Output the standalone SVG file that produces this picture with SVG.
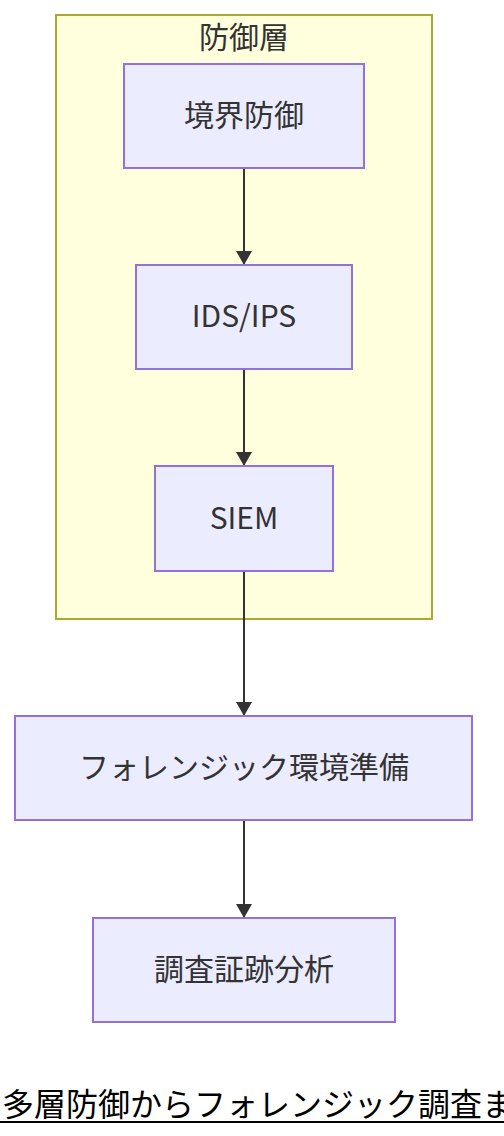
<svg xmlns="http://www.w3.org/2000/svg" width="504" height="1136" viewBox="0 0 504 1136">
<style>
.node rect{fill:#ececff;stroke:#9370db;stroke-width:2}
.lbl{font-family:"Noto Sans CJK JP","Noto Sans",sans-serif;font-size:30px;fill:#333;text-anchor:middle;dominant-baseline:central}
.edge{stroke:#333;stroke-width:2;fill:none}
</style>
<defs>
<marker id="arr" viewBox="0 0 14 16" refX="14" refY="8" markerWidth="14" markerHeight="16" markerUnits="userSpaceOnUse" orient="auto">
<path d="M0,0 L14,8 L0,16 z" fill="#333"/>
</marker>
</defs>
<rect width="504" height="1136" fill="#fff"/>
<g id="cluster">
<rect x="56" y="15" width="376" height="604" fill="#ffffde" stroke="#aaaa33" stroke-width="2"/>
<text class="lbl" x="244" y="35">防御層</text>
</g>
<g id="edges">
<path class="edge" d="M244,168 V265" marker-end="url(#arr)"/>
<path class="edge" d="M244,369 V466" marker-end="url(#arr)"/>
<path class="edge" d="M244,571 V716" marker-end="url(#arr)"/>
<path class="edge" d="M244,820 V918" marker-end="url(#arr)"/>
</g>
<g id="n1" class="node"><rect x="124" y="64" width="240" height="104"/><text class="lbl" x="244" y="113">境界防御</text></g>
<g id="n2" class="node"><rect x="136" y="265" width="216" height="104"/><text class="lbl" x="244" y="314">IDS/IPS</text></g>
<g id="n3" class="node"><rect x="155" y="466" width="178" height="105"/><text class="lbl" x="244" y="516">SIEM</text></g>
<g id="n4" class="node"><rect x="15" y="716" width="457" height="104"/><text class="lbl" x="244" y="765">フォレンジック環境準備</text></g>
<g id="n5" class="node"><rect x="93" y="918" width="302" height="104"/><text class="lbl" x="244" y="967">調査証跡分析</text></g>
<g id="title">
<text x="2" y="1116" font-family="Noto Sans CJK JP,sans-serif" font-size="32" fill="#000">多層防御からフォレンジック調査ま</text>
<line x1="0" y1="1122" x2="504" y2="1122" stroke="#000" stroke-width="2"/>
</g>
</svg>
